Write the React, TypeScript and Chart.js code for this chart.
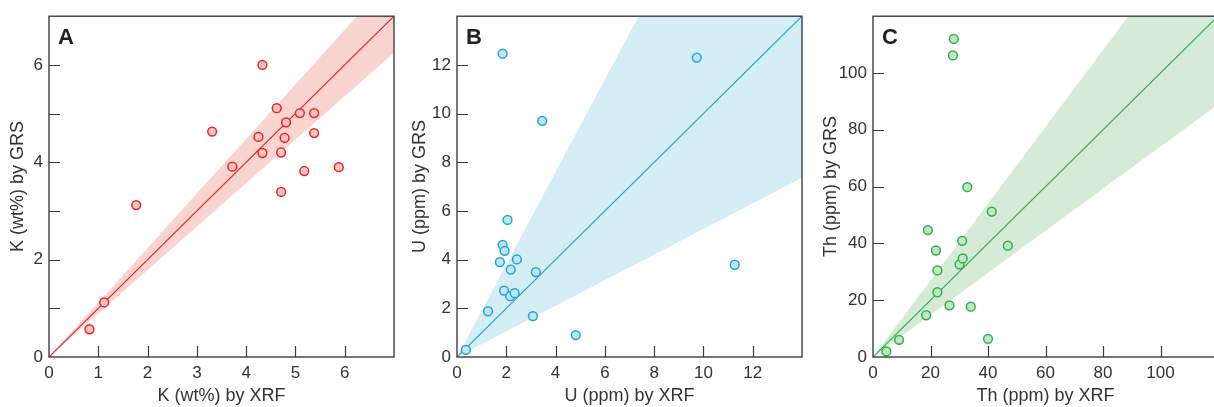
import React, { useEffect, useRef } from 'react';
import { Chart, registerables } from 'chart.js';
Chart.register(...registerables);

// Panel A: K (wt%)
const kXrf = [0.82, 1.12, 1.77, 3.31, 3.72, 4.25, 4.33, 4.33, 4.62, 4.71, 4.71, 4.81, 4.78, 5.09, 5.38, 5.38, 5.18, 5.88];
const kGrs = [0.57, 1.12, 3.12, 4.63, 3.91, 4.52, 6.0, 4.19, 5.11, 4.2, 3.39, 4.82, 4.5, 5.01, 5.01, 4.6, 3.82, 3.9];
// Panel B: U (ppm)
const uXrf = [0.36, 1.26, 1.85, 1.74, 1.85, 1.93, 2.05, 1.91, 2.16, 2.18, 2.34, 2.43, 3.2, 3.08, 3.46, 4.82, 9.73, 11.27];
const uGrs = [0.29, 1.88, 12.46, 3.9, 4.61, 4.36, 5.63, 2.73, 2.5, 3.59, 2.62, 4.01, 3.49, 1.68, 9.7, 0.9, 12.3, 3.79];
// Panel C: Th (ppm)
const thXrf = [4.65, 9.07, 18.5, 19.1, 21.9, 22.4, 22.4, 26.6, 27.8, 28.1, 30.1, 31.2, 31.0, 32.8, 34.0, 40.0, 41.3, 46.9];
const thGrs = [1.98, 6.05, 14.7, 44.7, 37.5, 30.5, 22.8, 18.2, 106.2, 112.0, 32.6, 34.7, 40.9, 59.8, 17.7, 6.4, 51.2, 39.2];

// Axis maxima and uncertainty band factors
const axisMax = [7, 14, 120];
const bandFactor = [1.12, 1.9, 1.35];
const panelLetters = ['A', 'B', 'C'];
const xTitles = ['K (wt%) by XRF', 'U (ppm) by XRF', 'Th (ppm) by XRF'];
const yTitles = ['K (wt%) by GRS', 'U (ppm) by GRS', 'Th (ppm) by GRS'];

const FONT = "'Liberation Sans', Arial, Helvetica, sans-serif";

const framePlugin = {
  id: 'frame',
  afterDatasetsDraw(chart: any, _args: any, opts: any) {
    const { ctx, chartArea: a, scales } = chart;
    ctx.save();
    ctx.strokeStyle = '#3c3c3c';
    ctx.lineWidth = 1.4;
    ctx.strokeRect(a.left, a.top, a.right - a.left, a.bottom - a.top);
    ctx.beginPath();
    ctx.lineWidth = 1.2;
    for (const t of scales.x.ticks) {
      if (t.value <= scales.x.min || t.value >= scales.x.max) continue;
      const px = Math.round(scales.x.getPixelForValue(t.value)) + 0.5;
      ctx.moveTo(px, a.bottom);
      ctx.lineTo(px, a.bottom - 11);
    }
    for (const t of scales.y.ticks) {
      if (t.value <= scales.y.min || t.value >= scales.y.max) continue;
      const py = Math.round(scales.y.getPixelForValue(t.value)) + 0.5;
      ctx.moveTo(a.left, py);
      ctx.lineTo(a.left + 11, py);
    }
    ctx.stroke();
    ctx.fillStyle = '#222';
    ctx.font = `bold 22px ${FONT}`;
    ctx.textBaseline = 'top';
    ctx.textAlign = 'left';
    ctx.fillText(opts.letter, a.left + 9, a.top + 11);
    ctx.restore();
  },
};

type Panel = {
  xs: number[];
  ys: number[];
  idx: number;
  xStep: number;
  yStep: number;
  yLabelEvery: number;
  border: string;
  fill: string;
  band: string;
  left: number;
  width: number;
  yAxisWidth: number;
  padRight: number;
  yTitlePad: number;
};

const panels: Panel[] = [
  { xs: kXrf, ys: kGrs, idx: 0, xStep: 1, yStep: 1, yLabelEvery: 2, border: '#ea2229', fill: '#f8c4bf', band: '#fad5d0', left: 0, width: 400, yAxisWidth: 49, padRight: 6, yTitlePad: 7 },
  { xs: uXrf, ys: uGrs, idx: 1, xStep: 2, yStep: 2, yLabelEvery: 2, border: '#1fa5d6', fill: '#c3e5f3', band: '#d5eef6', left: 400, width: 410, yAxisWidth: 57, padRight: 8, yTitlePad: 9 },
  { xs: thXrf, ys: thGrs, idx: 2, xStep: 20, yStep: 20, yLabelEvery: 20, border: '#2bb24b', fill: '#c4e4c4', band: '#d6ebd7', left: 810, width: 420, yAxisWidth: 63, padRight: 12, yTitlePad: 10 },
];

function PanelChart({ p }: { p: Panel }) {
  const ref = useRef<HTMLCanvasElement>(null);
  useEffect(() => {
    if (!ref.current) return;
    const max = axisMax[p.idx];
    const f = bandFactor[p.idx];
    const pts = p.xs.map((x, i) => ({ x, y: p.ys[i] }));
    const chart = new Chart(ref.current, {
      type: 'line',
      data: {
        datasets: [
          {
            data: pts,
            showLine: false,
            pointRadius: 4.4,
            pointBorderWidth: 1.5,
            pointBackgroundColor: p.fill,
            pointBorderColor: p.border,
            order: 0,
          } as any,
          {
            data: [{ x: 0, y: 0 }, { x: max, y: max }],
            borderColor: p.border,
            backgroundColor: p.border,
            borderWidth: 1.2,
            pointRadius: 0,
            fill: false,
            order: 1,
          },
          {
            data: [{ x: 0, y: 0 }, { x: max, y: max * f }],
            borderWidth: 0,
            borderColor: p.band,
            backgroundColor: p.band,
            pointRadius: 0,
            fill: false,
            order: 2,
          },
          {
            data: [{ x: 0, y: 0 }, { x: max, y: max / f }],
            borderWidth: 0,
            borderColor: p.band,
            backgroundColor: p.band,
            pointRadius: 0,
            fill: 2,
            order: 3,
          },
        ],
      },
      options: {
        animation: false,
        responsive: false,
        events: [],
        layout: { padding: { top: 14, right: p.padRight, left: 0, bottom: 0 } },
        plugins: {
          legend: { display: false },
          tooltip: { enabled: false },
          frame: { letter: panelLetters[p.idx] },
        } as any,
        scales: {
          x: {
            type: 'linear',
            min: 0,
            max,
            grid: { display: false, drawTicks: false },
            border: { display: false },
            afterFit: (s: any) => { s.height = 50; },
            ticks: {
              stepSize: p.xStep,
              padding: 6,
              color: '#333',
              font: { family: FONT, size: 17 },
              maxRotation: 0,
              autoSkip: false,
              callback: (v: any) => (v < max ? String(v) : ''),
            },
            title: {
              display: true,
              text: xTitles[p.idx],
              color: '#333',
              font: { family: FONT, size: 18 },
              padding: { top: 0, bottom: 0 },
            },
          },
          y: {
            type: 'linear',
            min: 0,
            max,
            grid: { display: false, drawTicks: false },
            border: { display: false },
            afterFit: (s: any) => { s.width = p.yAxisWidth; },
            ticks: {
              stepSize: p.yStep,
              padding: 6,
              color: '#333',
              font: { family: FONT, size: 17 },
              autoSkip: false,
              callback: (v: any) => (v < max && v % p.yLabelEvery === 0 ? String(v) : ''),
            },
            title: {
              display: true,
              text: yTitles[p.idx],
              color: '#333',
              font: { family: FONT, size: 18 },
              padding: { top: p.yTitlePad, bottom: 0 },
            },
          },
        },
      },
      plugins: [framePlugin as any],
    });
    return () => chart.destroy();
  }, [p]);
  return (
    <canvas
      ref={ref}
      width={p.width}
      height={407}
      style={{ position: 'absolute', left: p.left, top: 0, width: p.width, height: 407 }}
    />
  );
}

export default function App() {
  useEffect(() => {
    document.body.style.margin = '0';
  }, []);
  return (
    <div style={{ position: 'relative', width: 1214, height: 407, overflow: 'hidden', background: '#fff' }}>
      {panels.map((p) => (
        <PanelChart key={p.idx} p={p} />
      ))}
    </div>
  );
}
